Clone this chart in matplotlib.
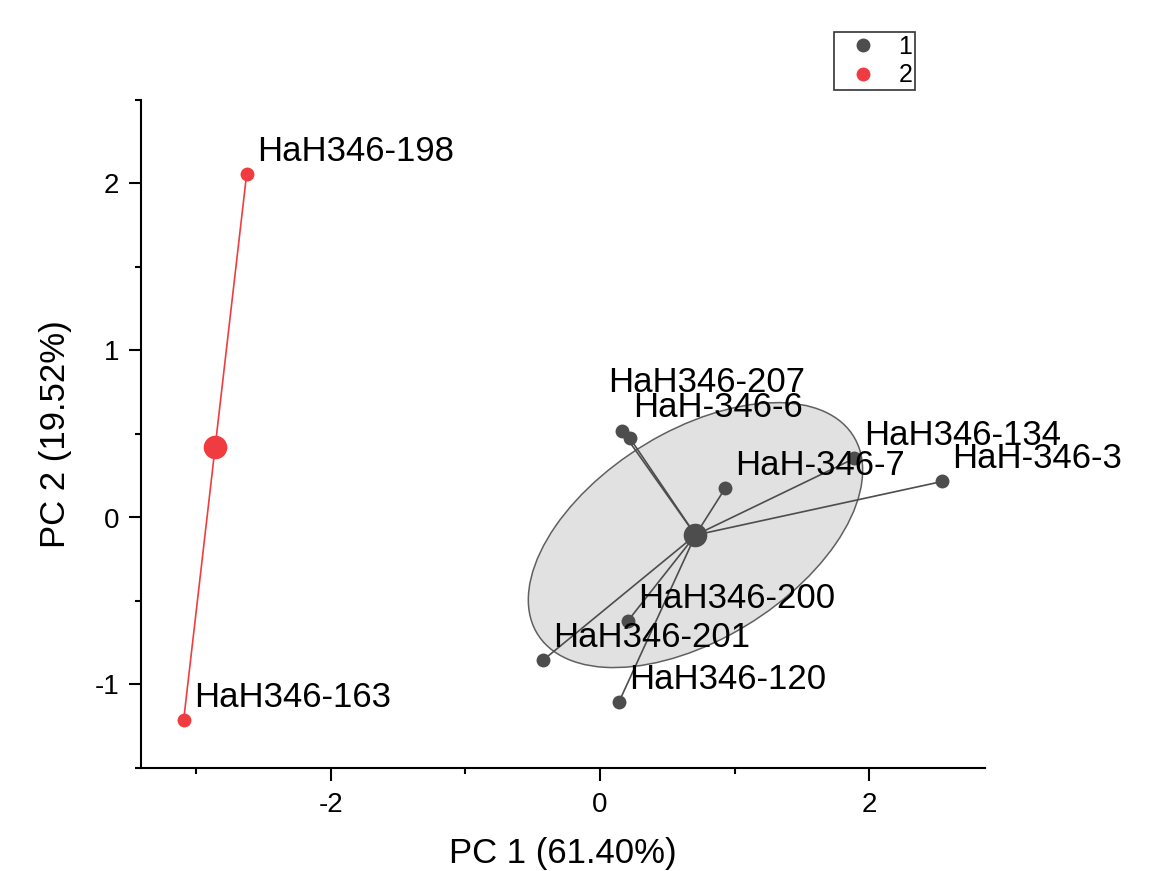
import numpy as np
import matplotlib
matplotlib.use("Agg")
import matplotlib.pyplot as plt
from matplotlib.patches import Ellipse
from matplotlib.lines import Line2D

plt.rcParams['font.family'] = ['Liberation Sans', 'DejaVu Sans']
plt.rcParams['axes.unicode_minus'] = False

# ---- data ----
g1_names = ["HaH346-207", "HaH-346-6", "HaH346-134", "HaH-346-7", "HaH-346-3",
            "HaH346-200", "HaH346-201", "HaH346-120"]
g1_pc1 = [0.164, 0.223, 1.89, 0.929, 2.543, 0.208, -0.424, 0.141]
g1_pc2 = [0.516, 0.474, 0.354, 0.174, 0.216, -0.618, -0.855, -1.104]

g2_names = ["HaH346-198", "HaH346-163"]
g2_pc1 = [-2.625, -3.093]
g2_pc2 = [2.058, -1.212]

x_label = "PC 1 (61.40%)"
y_label = "PC 2 (19.52%)"
legend_labels = ["1", "2"]

# label offsets (pixels -> points)
offsets = {
    "HaH346-207": (-14, 39), "HaH-346-6": (3, 21),
}
default_off = (10, 13)

c1 = "#4d4d4d"
c2 = "#f03c40"

fig = plt.figure(figsize=(11.64, 8.71), dpi=100)
ax = fig.add_axes([141/1164, 1-768/871, (985-141)/1164, (768-100)/871])

def conf_ellipse(x, y):
    x = np.asarray(x); y = np.asarray(y)
    n = len(x)
    cov = np.cov(x, y)
    m = n - 2
    F = (m / 2.0) * (0.05 ** (-2.0 / m) - 1.0)
    k2 = 2.0 * (n - 1) / (n * (n - 2)) * F
    vals, vecs = np.linalg.eigh(cov)
    order = vals.argsort()[::-1]
    vals, vecs = vals[order], vecs[:, order]
    ang = np.degrees(np.arctan2(vecs[1, 0], vecs[0, 0]))
    w, h = 2 * np.sqrt(vals * k2)
    return Ellipse((x.mean(), y.mean()), w, h, angle=ang,
                   facecolor="#e1e1e1", edgecolor="#606060", lw=1.1, zorder=1)

ax.add_patch(conf_ellipse(g1_pc1, g1_pc2))

def draw_group(xs, ys, names, color):
    cx, cy = np.mean(xs), np.mean(ys)
    for x, y in zip(xs, ys):
        ax.plot([cx, x], [cy, y], color=color, lw=1.2, zorder=2)
    ax.plot(xs, ys, 'o', color=color, ms=10, mec='none', zorder=3)
    ax.plot([cx], [cy], 'o', color=color, ms=17, mec='none', zorder=3)
    for x, y, nm in zip(xs, ys, names):
        dx, dy = offsets.get(nm, default_off)
        ax.annotate(nm, (x, y), xytext=(dx * 0.72, dy * 0.72),
                    textcoords='offset points', ha='left', va='baseline',
                    fontsize=25, color='black', zorder=4, annotation_clip=False)

draw_group(g1_pc1, g1_pc2, g1_names, c1)
draw_group(g2_pc1, g2_pc2, g2_names, c2)

ax.set_xlim(-3.41, 2.86)
ax.set_ylim(-1.5, 2.5)
ax.set_xticks([-2, 0, 2])
ax.set_xticks([-3, -1, 1], minor=True)
ax.set_yticks([-1, 0, 1, 2])
ax.set_yticks([-1.5, -0.5, 0.5, 1.5, 2.5], minor=True)
ax.tick_params(which='major', direction='out', length=9, width=1.5, labelsize=20)
ax.tick_params(axis='x', which='major', pad=8)
ax.tick_params(axis='y', which='major', pad=6.5)
ax.tick_params(which='minor', direction='out', length=4.5, width=1.5)
for s in ['top', 'right']:
    ax.spines[s].set_visible(False)
for s in ['left', 'bottom']:
    ax.spines[s].set_linewidth(1.5)

ax.set_xlabel(x_label, fontsize=25, labelpad=14)
ax.set_ylabel(y_label, fontsize=25, labelpad=16)

handles = [Line2D([], [], marker='o', ls='none', color=c1, ms=10, mec='none'),
           Line2D([], [], marker='o', ls='none', color=c2, ms=10, mec='none')]
leg = fig.legend(handles, legend_labels, loc='upper left',
                 bbox_to_anchor=(834/1164, 1-32/871), fontsize=18,
                 frameon=True, fancybox=False, borderpad=0.1,
                 handlelength=2.1, handletextpad=0.38, labelspacing=0.2,
                 borderaxespad=0)
leg.get_frame().set_edgecolor('black')
leg.get_frame().set_linewidth(1.2)

fig.savefig("out.png", dpi=100)
